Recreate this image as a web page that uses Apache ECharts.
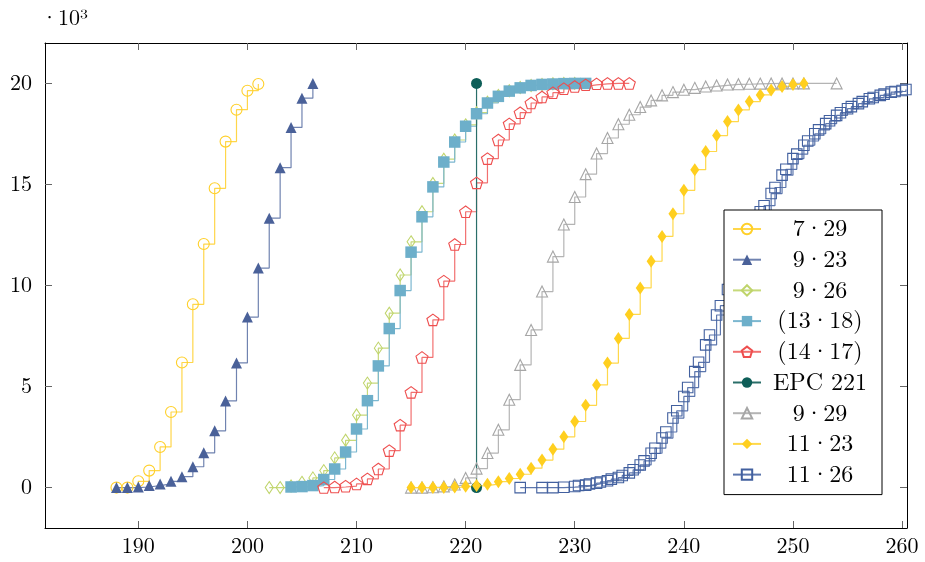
<!DOCTYPE html>
<html>
<head>
<meta charset="utf-8">
<script src="https://cdn.jsdelivr.net/npm/echarts@6/dist/echarts.min.js"></script>
<style>html,body{margin:0;padding:0;background:#fff;}#c{width:925px;height:562px;}</style>
</head>
<body>
<div id="c"></div>
<script>
// values in units of 10^3
var xTicks = [190, 200, 210, 220, 230, 240, 250, 260];
var yTicks = [0, 5, 10, 15, 20];

var s729_x = [188,189,190,191,192,193,194,195,196,197,198,199,200,201];
var s729_y = [0,0,0.31,0.84,2.01,3.74,6.19,9.07,12.05,14.81,17.12,18.70,19.64,19.97];

var s923_x = [188,189,190,191,192,193,194,195,196,197,198,199,200,201,202,203,204,205,206];
var s923_y = [0,0,0.03,0.1,0.18,0.31,0.54,1.03,1.72,2.81,4.29,6.17,8.44,10.86,13.33,15.83,17.82,19.27,20.0];

var s926_x = [202,203,204,205,206,207,208,209,210,211,212,213,214,215,216,217,218,219,220,221,222,223,224,225,226,227,228,229,230];
var s926_y = [0,0,0.08,0.26,0.48,0.84,1.47,2.34,3.59,5.17,6.90,8.63,10.52,12.16,13.65,15.05,16.25,17.2,17.95,18.55,19.07,19.4,19.64,19.8,19.9,19.95,19.98,20,20];

var s1318_x = [204,205,206,207,208,209,210,211,212,213,214,215,216,217,218,219,220,221,222,223,224,225,226,227,228,229,230,231];
var s1318_y = [0.03,0.05,0.1,0.4,0.92,1.76,2.90,4.3,6.02,7.87,9.75,11.65,13.40,14.88,16.11,17.10,17.88,18.50,19.03,19.36,19.62,19.78,19.9,19.95,19.97,19.99,20,20];

var s1417_x = [207,208,209,210,211,212,213,214,215,216,217,218,219,220,221,222,223,224,225,226,227,228,229,230,231,232,233,234,235];
var s1417_y = [0,0.03,0.07,0.18,0.43,0.92,1.83,3.09,4.71,6.44,8.30,10.22,12.03,13.65,15.08,16.28,17.2,18.0,18.55,19.03,19.33,19.54,19.74,19.85,19.93,19.98,20,20,20];

var epc_x = [221, 221];
var epc_y = [0, 20];

var s929_x = [215,216,217,218,219,220,221,222,223,224,225,226,227,228,229,230,231,232,233,234,235,236,237,238,239,240,241,242,243,244,245,246,247,248,249,250,251,254];
var s929_y = [0,0,0.02,0.06,0.15,0.48,0.94,1.71,2.86,4.35,6.07,7.80,9.70,11.43,13.02,14.38,15.51,16.53,17.30,17.98,18.45,18.83,19.16,19.41,19.57,19.69,19.78,19.85,19.9,19.95,19.96,19.98,19.99,20,20,20,20,20];

var s1123_x = [215,216,217,218,219,220,221,222,223,224,225,226,227,228,229,230,231,232,233,234,235,236,237,238,239,240,241,242,243,244,245,246,247,248,249,250,251];
var s1123_y = [0,0,0,0,0.03,0.07,0.1,0.17,0.29,0.45,0.66,0.96,1.36,1.9,2.51,3.27,4.07,5.08,6.16,7.38,8.57,9.88,11.2,12.43,13.55,14.71,15.73,16.63,17.42,18.11,18.69,19.1,19.43,19.68,19.85,19.95,20.0];

var s1126_x = [225,227,228,229,230,231,232,233,234,235,236,237,238,239,240,241,242,243,244,245,246,247,248,249,250,251,252,253,254,255,256,257,258,259,260];
var s1126_y = [0,0,0,0.02,0.05,0.12,0.22,0.34,0.5,0.73,1.12,1.7,2.45,3.44,4.51,5.74,7.06,8.54,9.8,11.1,12.4,13.65,14.55,15.46,16.28,16.94,17.51,18.01,18.42,18.75,19.0,19.24,19.41,19.57,19.65];

var s1126b_x = [230.35,231.35,232.35,233.35,234.35,235.35,236.35,237.35,238.35,239.35,240.35,241.35,242.35,243.35,244.35,245.35,246.35,247.35,248.35,249.35,250.35,251.35,252.35,253.35,254.35,255.35,256.35,257.35,258.35,259.35,260.35];
var s1126b_y = [0.1,0.18,0.28,0.42,0.6,0.88,1.32,1.95,2.75,3.8,4.95,6.2,7.55,9.0,10.25,11.55,12.85,13.95,14.85,15.75,16.5,17.15,17.7,18.15,18.55,18.85,19.1,19.3,19.47,19.6,19.7];

var names = ['7·29','9·23','9·26','(13·18)','(14·17)','EPC 221','9·29','11·23','11·26'];

function zip(xs, ys) { return xs.map(function (x, i) { return [x, ys[i]]; }); }

var PENT = 'path://M0,-1L0.951,-0.309L0.588,0.809L-0.588,0.809L-0.951,-0.309Z';

function mk(name, xs, ys, color, lineColor, symbol, size, filled) {
  return {
    name: name, type: 'line', step: 'end',
    data: zip(xs, ys),
    symbol: symbol, symbolSize: size, showSymbol: true,
    lineStyle: { color: lineColor, width: 1.2 },
    itemStyle: filled ? { color: color, borderWidth: 0 }
                      : { color: 'rgba(255,255,255,0)', borderColor: color, borderWidth: 1.1 },
    emphasis: { disabled: true },
    z: 2
  };
}

var series = [
  mk(names[0], s729_x, s729_y, '#FFD02A', '#FFD64A', 'circle', 11, false),
  mk(names[1], s923_x, s923_y, '#4A6199', '#7083B0', 'triangle', 11, true),
  mk(names[2], s926_x, s926_y, '#BFD46A', '#C6D97A', 'diamond', [8, 12], false),
  mk(names[3], s1318_x, s1318_y, '#6DAFCA', '#7CB7D0', 'rect', 11.5, true),
  mk(names[4], s1417_x, s1417_y, '#EE4F4F', '#F27070', PENT, [12, 11.5], false),
  mk(names[5], epc_x, epc_y, '#0E5E58', '#2A6E69', 'circle', 11, true),
  mk(names[6], s929_x, s929_y, '#A6A6A6', '#B4B4B4', 'triangle', 11, false),
  mk(names[7], s1123_x, s1123_y, '#FFCF1F', '#FFD84A', 'diamond', [9, 13], true),
  mk(names[8], s1126_x, s1126_y, '#42609F', '#5C76AD', 'rect', 10.5, false),
  mk(names[8], s1126b_x, s1126b_y, '#42609F', '#5C76AD', 'rect', 10.5, false)
];

var FONT = "'Latin Modern Roman','CMU Serif','Liberation Serif','DejaVu Serif',serif";
var tickLine = { color: '#666', width: 1 };

var chart = echarts.init(document.getElementById('c'), null, { renderer: 'canvas' });
chart.setOption({
  animation: false,
  backgroundColor: '#fff',
  title: {
    text: '·10³', left: 36, top: 2,
    textStyle: { fontFamily: FONT, fontSize: 22, fontWeight: 'normal', color: '#000' }
  },
  grid: { left: 45, right: 18, top: 43, bottom: 34, containLabel: false },
  legend: {
    data: names,
    orient: 'vertical',
    left: 724, top: 210,
    padding: [7, 8, 8, 8],
    itemGap: 6.7,
    itemWidth: 28, itemHeight: 13,
    backgroundColor: '#fff',
    borderColor: '#000', borderWidth: 1, borderRadius: 0,
    selectedMode: false,
    formatter: function (n) { return '{a|' + n + '}'; },
    textStyle: {
      fontFamily: FONT, fontSize: 24, color: '#000',
      rich: { a: { fontFamily: FONT, fontSize: 24, lineHeight: 26, width: 108, align: 'center', color: '#000' } }
    },
    z: 10
  },
  xAxis: [
    {
      type: 'value', min: 181.45, max: 260.45, position: 'bottom',
      axisLine: { show: true, onZero: false, lineStyle: { color: '#000', width: 1 } },
      axisTick: { show: true, inside: true, length: 7, customValues: xTicks, lineStyle: tickLine },
      axisLabel: { show: true, customValues: xTicks, margin: 7, fontFamily: FONT, fontSize: 22, color: '#000' },
      splitLine: { show: false }
    },
    {
      type: 'value', min: 181.45, max: 260.45, position: 'top',
      axisLine: { show: true, onZero: false, lineStyle: { color: '#000', width: 1 } },
      axisTick: { show: true, inside: true, length: 7, customValues: xTicks, lineStyle: tickLine },
      axisLabel: { show: false },
      splitLine: { show: false }
    }
  ],
  yAxis: [
    {
      type: 'value', min: -2, max: 22, position: 'left',
      axisLine: { show: true, onZero: false, lineStyle: { color: '#000', width: 1 } },
      axisTick: { show: true, inside: true, length: 7, customValues: yTicks, lineStyle: tickLine },
      axisLabel: { show: true, customValues: yTicks, margin: 13, fontFamily: FONT, fontSize: 22, color: '#000' },
      splitLine: { show: false }
    },
    {
      type: 'value', min: -2, max: 22, position: 'right',
      axisLine: { show: true, onZero: false, lineStyle: { color: '#000', width: 1 } },
      axisTick: { show: true, inside: true, length: 7, customValues: yTicks, lineStyle: tickLine },
      axisLabel: { show: false },
      splitLine: { show: false }
    }
  ],
  series: series
});
</script>
</body>
</html>
